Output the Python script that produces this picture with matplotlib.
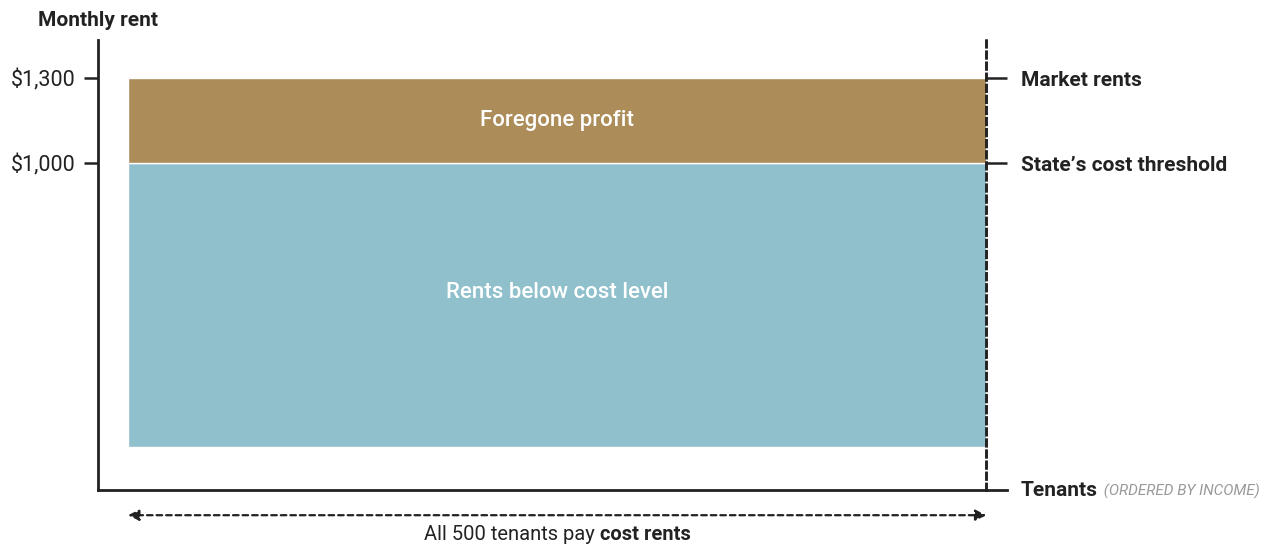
import matplotlib.pyplot as plt

plt.rcParams['font.family'] = ['Roboto', 'DejaVu Sans']

# data
n_tenants = 500
cost_threshold = 1000
market_rent = 1300
ytick_values = [1300, 1000]
ytick_labels = ['$1,300', '$1,000']
right_labels = ['Market rents', 'State\u2019s cost threshold']

ink = '#222222'
brown = '#ac8c58'
blue = '#90c0cb'

fig = plt.figure(figsize=(12.65, 5.46), dpi=100)
W, H = 1265, 546
# axes box in pixels: left 98, right 1007, top 40, bottom 490
ax = fig.add_axes([98 / W, (H - 490) / H, (1007 - 98) / W, (490 - 40) / H])
xmin, xmax = -17.5, 512
ymin, ymax = -152, 1434
ax.set_xlim(xmin, xmax)
ax.set_ylim(ymin, ymax)

ax.bar(0, cost_threshold, width=n_tenants, align='edge', color=blue,
       edgecolor='white', linewidth=1, zorder=1)
ax.bar(0, market_rent - cost_threshold, bottom=cost_threshold, width=n_tenants,
       align='edge', color=brown, edgecolor='white', linewidth=1, zorder=1)

ax.text(n_tenants / 2, (cost_threshold + market_rent) / 2, 'Foregone profit',
        color='white', fontsize=16, fontweight='medium', ha='center', va='center')
ax.text(n_tenants / 2, cost_threshold * 0.545, 'Rents below cost level',
        color='white', fontsize=16, fontweight='medium', ha='center', va='center')

for s in ['top', 'right']:
    ax.spines[s].set_visible(False)
for s in ['left', 'bottom']:
    ax.spines[s].set_linewidth(2)
    ax.spines[s].set_color(ink)
ax.set_xticks([])
ax.set_yticks(ytick_values, ytick_labels)
ax.tick_params(axis='y', length=10, width=1.8, color=ink, pad=6,
               labelsize=15.5, labelcolor=ink)

# dashed line at the last tenant, with labels on the right
loc = (n_tenants - xmin) / (xmax - xmin)
sec = ax.secondary_yaxis(loc)
sec.set_zorder(5)
sec.set_yticks(ytick_values, right_labels)
sec.tick_params(axis='y', length=15, width=1.8, color=ink, pad=10,
                labelsize=15, labelcolor=ink)
for lab in sec.get_yticklabels():
    lab.set_fontweight('bold')
sec.spines['right'].set_linestyle((0, (2.2, 1.6)))
sec.spines['right'].set_linewidth(2.1)
sec.spines['right'].set_color(ink)

ax.annotate('Monthly rent', xy=(0, 1), xycoords='axes fraction',
            xytext=(0, 20), textcoords='offset pixels', ha='center', va='center',
            fontsize=15, fontweight='bold', color=ink)

t1 = ax.annotate('Tenants', xy=(1, 0), xycoords='axes fraction',
                 xytext=(14, 0), textcoords='offset pixels', ha='left', va='center',
                 fontsize=15, fontweight='bold', color=ink)
ax.annotate(' (ORDERED BY INCOME)', xy=(1, 0.5), xycoords=t1,
            xytext=(2, -1), textcoords='offset pixels', ha='left', va='center',
            fontsize=11, style='italic', color='#999999')

# arrow spanning all tenants
xt = ax.get_xaxis_transform()
ax.annotate('', xy=(0, -0.056), xycoords=xt, xytext=(n_tenants, -0.056),
            textcoords=xt,
            arrowprops=dict(arrowstyle='<|-|>', linestyle=(0, (2.5, 1.8)),
                            color=ink, lw=1.6, shrinkA=0, shrinkB=0,
                            mutation_scale=16))

b1 = ax.annotate('All 500 tenants pay ', xy=(n_tenants / 2, -0.1), xycoords=xt,
                 ha='left', va='center', fontsize=14.5, color=ink)
b2 = ax.annotate('cost rents', xy=(1, 0.5), xycoords=b1, ha='left', va='center',
                 fontsize=14.5, fontweight='bold', color=ink)
fig.canvas.draw()
r = fig.canvas.get_renderer()
total = b1.get_window_extent(r).width + b2.get_window_extent(r).width
b1.set_position((-total / 2, 0))
b1.set_anncoords('offset pixels')

fig.savefig('out.png', dpi=100)
